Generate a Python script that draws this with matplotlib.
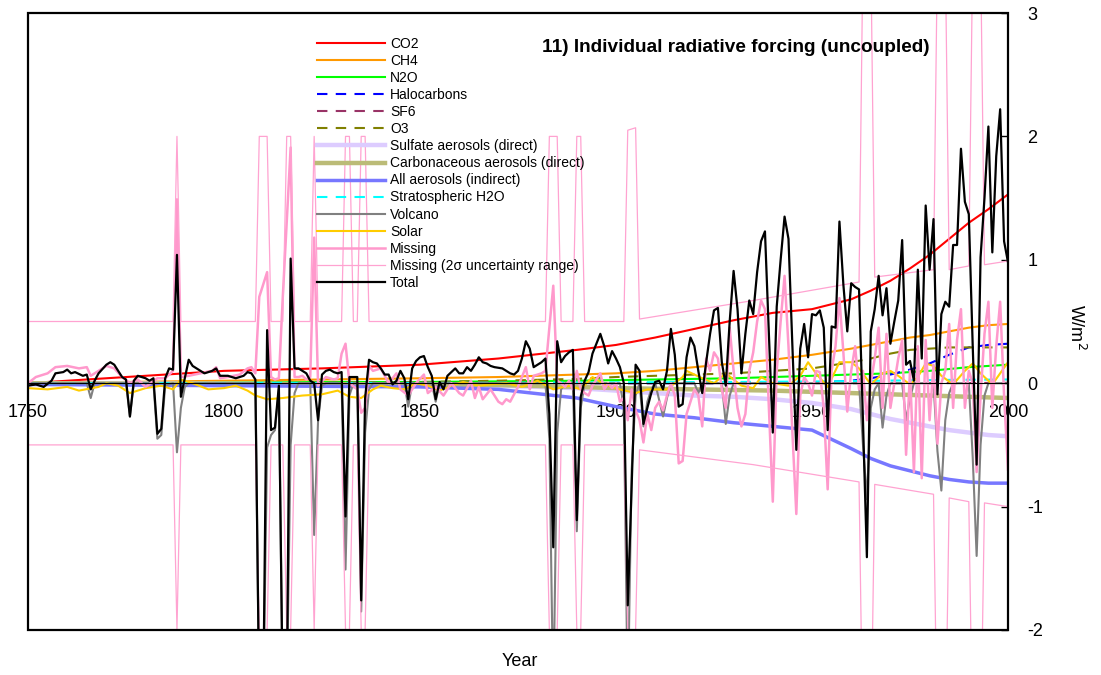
import matplotlib
matplotlib.use("Agg")
import matplotlib.pyplot as plt
from matplotlib.patches import Rectangle

plt.rcParams['font.family'] = ['Liberation Sans', 'DejaVu Sans']
plt.rcParams['axes.unicode_minus'] = False

# smooth forcing series, read at these years (W/m2)
grid_years = [1750, 1775, 1800, 1825, 1850, 1870, 1890, 1900, 1910, 1920, 1930,
              1940, 1950, 1960, 1965, 1970, 1975, 1980, 1985, 1990, 1995, 2000]
co2 = [0.0, 0.05, 0.10, 0.12, 0.15, 0.20, 0.27, 0.31, 0.37, 0.44, 0.51,
       0.57, 0.60, 0.68, 0.75, 0.83, 0.93, 1.04, 1.17, 1.30, 1.41, 1.53]
ch4 = [0.0, 0.01, 0.02, 0.03, 0.04, 0.05, 0.07, 0.08, 0.10, 0.13, 0.16,
       0.19, 0.23, 0.28, 0.31, 0.34, 0.37, 0.39, 0.42, 0.45, 0.47, 0.48]
n2o = [0.0, 0.0, 0.005, 0.01, 0.01, 0.015, 0.02, 0.025, 0.03, 0.035, 0.04,
       0.05, 0.06, 0.07, 0.075, 0.08, 0.09, 0.10, 0.115, 0.13, 0.14, 0.15]
halocarbons = [0, 0, 0, 0, 0, 0, 0, 0, 0, 0, 0,
               0.0, 0.005, 0.02, 0.04, 0.07, 0.11, 0.16, 0.23, 0.29, 0.31, 0.32]
sf6 = [0, 0, 0, 0, 0, 0, 0, 0, 0, 0, 0,
       0, 0, 0, 0, 0, 0, 0.0005, 0.001, 0.001, 0.002, 0.003]
o3 = [0.0, 0.0, 0.0, 0.005, 0.01, 0.02, 0.035, 0.05, 0.06, 0.07, 0.08,
      0.10, 0.12, 0.17, 0.20, 0.24, 0.27, 0.28, 0.29, 0.29, 0.29, 0.29]
sulfate = [0.0, 0.0, -0.005, -0.008, -0.01, -0.02, -0.04, -0.06, -0.08, -0.10, -0.11,
           -0.13, -0.16, -0.21, -0.25, -0.29, -0.32, -0.35, -0.38, -0.40, -0.42, -0.43]
carbonaceous = [0.0, -0.003, -0.006, -0.008, -0.01, -0.015, -0.03, -0.04, -0.045, -0.05, -0.055,
                -0.06, -0.07, -0.08, -0.085, -0.09, -0.095, -0.10, -0.105, -0.11, -0.115, -0.12]
indirect = [-0.01, -0.015, -0.02, -0.025, -0.03, -0.05, -0.12, -0.19, -0.25, -0.28, -0.32,
            -0.35, -0.38, -0.53, -0.61, -0.67, -0.71, -0.75, -0.78, -0.80, -0.81, -0.81]
strat_h2o = [0.0, 0.0, 0.001, 0.002, 0.003, 0.004, 0.006, 0.007, 0.008, 0.009, 0.01,
             0.012, 0.014, 0.017, 0.019, 0.021, 0.023, 0.025, 0.027, 0.028, 0.029, 0.03]

# volcanic forcing (year, value), values below -2 run off the plot
volcano = [(1750, 0), (1765, 0), (1766, -0.12), (1767, 0), (1775, 0), (1776, -0.27), (1777, 0),
           (1782, 0), (1783, -0.45), (1784, -0.42), (1785, -0.02), (1787, 0), (1788, -0.56),
           (1789, -0.2), (1790, -0.03), (1791, 0), (1808, 0), (1809, -2.6), (1810, -2.6),
           (1811, -0.52), (1812, -0.42), (1813, -0.38), (1814, -0.05), (1815, -2.6), (1816, -2.6),
           (1817, -0.5), (1818, -0.08), (1819, 0), (1822, 0), (1823, -1.23), (1824, -0.3),
           (1825, -0.02), (1826, 0), (1830, 0), (1831, -1.51), (1832, -0.1), (1833, 0), (1834, 0),
           (1835, -1.85), (1836, -0.4), (1837, -0.05), (1838, 0), (1846, 0), (1847, -0.19),
           (1848, 0), (1853, 0), (1854, -0.15), (1855, 0), (1882, 0), (1883, -0.45), (1884, -2.6),
           (1885, -0.4), (1886, -0.05), (1887, 0), (1889, 0), (1890, -1.2), (1891, -0.2), (1892, 0),
           (1901, 0), (1902, -0.2), (1903, -2.6), (1904, -0.7), (1905, -0.1), (1906, 0),
           (1907, -0.35), (1908, -0.15), (1909, -0.05), (1910, 0), (1912, -0.27), (1913, -0.12),
           (1914, 0), (1920, 0), (1921, -0.08), (1922, 0), (1927, 0), (1928, -0.33), (1929, -0.1),
           (1930, 0), (1962, 0), (1963, -0.5), (1964, -0.94), (1965, -0.2), (1966, -0.05),
           (1967, 0), (1968, -0.36), (1969, -0.1), (1970, 0), (1973, 0), (1974, -0.3),
           (1975, -0.12), (1976, 0), (1981, 0), (1982, -0.55), (1983, -0.87), (1984, -0.3),
           (1985, -0.08), (1986, 0), (1990, 0), (1991, -0.6), (1992, -1.40), (1993, -0.5),
           (1994, -0.1), (1995, 0), (2000, 0)]

solar = [(1750, -0.04), (1755, -0.05), (1760, -0.03), (1763, -0.06), (1768, -0.03), (1770, 0.0),
         (1773, -0.02), (1776, -0.08), (1780, -0.04), (1784, -0.02), (1787, -0.05), (1789, 0.03),
         (1792, 0.0), (1796, -0.05), (1800, -0.04), (1803, -0.02), (1806, -0.06), (1808, -0.10),
         (1811, -0.13), (1815, -0.12), (1820, -0.10), (1825, -0.09), (1829, -0.06), (1832, -0.11),
         (1835, -0.12), (1838, -0.05), (1840, -0.02), (1843, -0.04), (1846, -0.05), (1849, 0.0),
         (1852, -0.02), (1855, -0.06), (1858, -0.02), (1861, 0.01), (1865, -0.02), (1868, -0.01),
         (1872, 0.0), (1876, -0.03), (1880, 0.02), (1884, -0.05), (1888, -0.02), (1891, -0.05),
         (1894, 0.05), (1897, -0.01), (1901, -0.05), (1905, -0.08), (1908, -0.05), (1913, -0.05),
         (1917, 0.05), (1918, 0.10), (1922, 0.04), (1925, 0.0), (1928, 0.08), (1932, -0.02),
         (1935, -0.04), (1937, 0.05), (1940, 0.0), (1944, -0.02), (1947, 0.06), (1949, 0.17),
         (1951, 0.08), (1954, -0.03), (1957, 0.17), (1960, 0.17), (1962, 0.12), (1965, -0.01),
         (1968, 0.08), (1970, 0.10), (1972, 0.06), (1975, -0.01), (1977, 0.05), (1979, 0.16),
         (1981, 0.14), (1983, 0.06), (1986, -0.01), (1989, 0.10), (1991, 0.16), (1993, 0.08),
         (1996, -0.01), (1998, 0.08), (2000, 0.17)]

missing = [(1750, 0.0), (1752, 0.05), (1755, 0.08), (1757, 0.13), (1760, 0.14), (1763, 0.12),
           (1765, 0.13), (1766, 0.06), (1768, 0.10), (1770, 0.14), (1772, 0.12), (1774, 0.05),
           (1776, 0.0), (1778, 0.03), (1780, -0.03), (1783, 0.04), (1785, 0.04), (1787, 0.10),
           (1788, 1.49), (1789, 0.05), (1791, 0.06), (1794, 0.08), (1797, 0.10), (1798, 0.13),
           (1799, 0.04), (1801, 0.05), (1804, 0.07), (1806, 0.12), (1807, 0.13), (1808, 0.08),
           (1809, 0.70), (1810, 0.80), (1811, 0.90), (1812, 0.05), (1813, 0.03), (1814, 0.04),
           (1815, 0.70), (1816, 1.30), (1817, 1.91), (1818, 0.05), (1819, 0.05), (1820, 0.06),
           (1821, 0.03), (1822, 0.05), (1823, 1.18), (1824, -0.02), (1826, 0.05), (1828, 0.03),
           (1829, 0.04), (1830, 0.24), (1831, 0.32), (1832, 0.0), (1834, -0.05), (1835, -0.24),
           (1836, -0.20), (1837, 0.14), (1838, 0.10), (1840, 0.12), (1842, 0.0), (1844, 0.08),
           (1845, -0.05), (1847, -0.10), (1849, 0.0), (1851, 0.07), (1852, -0.08), (1854, -0.03),
           (1856, -0.10), (1858, 0.0), (1860, -0.08), (1861, -0.10), (1863, 0.02), (1864, -0.12),
           (1865, -0.03), (1866, -0.13), (1868, -0.05), (1870, -0.15), (1871, -0.17),
           (1872, -0.13), (1873, -0.15), (1875, -0.03), (1877, 0.13), (1878, -0.05), (1879, 0.06),
           (1881, 0.08), (1882, 0.10), (1883, 0.45), (1884, 0.79), (1885, 0.02), (1886, 0.0),
           (1887, -0.03), (1888, 0.02), (1889, -0.05), (1890, 0.10), (1891, -0.05), (1892, -0.08),
           (1893, -0.10), (1894, -0.02), (1895, 0.03), (1896, 0.08), (1897, -0.05), (1898, 0.0),
           (1899, -0.04), (1900, 0.0), (1901, -0.15), (1902, -0.12), (1903, -0.30), (1904, -0.05),
           (1905, -0.22), (1906, -0.30), (1907, -0.48), (1908, -0.25), (1909, -0.38), (1910, -0.20),
           (1911, -0.15), (1912, -0.22), (1913, -0.10), (1914, 0.0), (1915, -0.10), (1916, -0.65),
           (1917, -0.63), (1918, -0.25), (1919, -0.15), (1920, -0.05), (1921, -0.10), (1922, -0.35),
           (1923, 0.20), (1924, 0.10), (1925, 0.25), (1926, 0.20), (1927, -0.05), (1928, -0.20),
           (1929, 0.45), (1930, 0.10), (1931, -0.20), (1932, -0.35), (1933, -0.25), (1934, 0.10),
           (1935, 0.25), (1936, 0.50), (1937, 0.67), (1938, 0.60), (1939, -0.20), (1940, -0.96),
           (1941, 0.10), (1942, 0.50), (1943, 0.87), (1944, 0.30), (1945, -0.40), (1946, -1.06),
           (1947, -0.10), (1948, 0.05), (1949, 0.0), (1950, -0.10), (1951, 0.10), (1952, 0.09),
           (1953, -0.20), (1954, -0.86), (1955, 0.10), (1956, 0.30), (1957, 0.69), (1958, 0.25),
           (1959, -0.23), (1960, 0.10), (1961, 0.30), (1962, -0.05), (1963, 0.10), (1964, -0.30),
           (1965, 0.0), (1966, 0.20), (1967, 0.45), (1968, -0.20), (1969, 0.40), (1970, -0.20),
           (1971, 0.0), (1972, 0.20), (1973, 0.35), (1974, -0.58), (1975, 0.10), (1976, -0.72),
           (1977, 0.30), (1978, -0.77), (1979, 0.35), (1980, -0.30), (1981, 0.15), (1982, -0.49),
           (1983, 0.0), (1984, 0.10), (1985, 0.48), (1986, -0.20), (1987, 0.35), (1988, 0.60),
           (1989, -0.20), (1990, 0.10), (1991, 0.0), (1992, -0.72), (1993, -0.10), (1994, 0.40),
           (1995, 0.66), (1996, -0.20), (1997, 0.30), (1998, 0.66), (1999, -0.10), (2000, -0.70)]

# 2 sigma range of the missing forcing (upper and lower edges)
missing_hi = [(1750, 0.5), (1787, 0.5), (1788, 2.0), (1789, 0.5), (1808, 0.5), (1809, 2.0),
              (1811, 2.0), (1812, 0.5), (1815, 0.5), (1816, 2.0), (1817, 2.0), (1818, 0.5),
              (1822, 0.5), (1823, 2.0), (1824, 0.5), (1830, 0.5), (1831, 2.0), (1832, 2.0),
              (1833, 0.5), (1834, 0.5), (1835, 2.0), (1836, 2.0), (1837, 0.5), (1882, 0.5),
              (1883, 2.0), (1885, 2.0), (1886, 0.5), (1889, 0.5), (1890, 2.0), (1891, 2.0),
              (1892, 0.5), (1902, 0.5), (1903, 2.05), (1905, 2.07), (1906, 0.52), (1935, 0.67),
              (1962, 0.82), (1963, 3.5), (1965, 3.5), (1966, 0.86), (1981, 0.92), (1982, 3.5),
              (1984, 3.5), (1985, 0.92), (1990, 0.95), (1991, 3.5), (1993, 3.5), (1994, 0.96),
              (2000, 0.99)]
missing_lo = [(1750, -0.5), (1787, -0.5), (1788, -2.0), (1789, -0.5), (1808, -0.5), (1809, -2.0),
              (1811, -2.0), (1812, -0.5), (1815, -0.5), (1816, -2.0), (1817, -2.0), (1818, -0.5),
              (1822, -0.5), (1823, -2.0), (1824, -0.5), (1830, -0.5), (1831, -2.0), (1832, -2.0),
              (1833, -0.5), (1834, -0.5), (1835, -2.0), (1836, -2.0), (1837, -0.5), (1882, -0.5),
              (1883, -2.0), (1885, -2.0), (1886, -0.5), (1889, -0.5), (1890, -2.0), (1891, -2.0),
              (1892, -0.5), (1902, -0.5), (1903, -2.0), (1905, -2.0), (1906, -0.54), (1935, -0.66),
              (1962, -0.80), (1963, -3.0), (1965, -3.0), (1966, -0.82), (1981, -0.90), (1982, -3.0),
              (1984, -3.0), (1985, -0.93), (1990, -0.96), (1991, -3.0), (1993, -3.0), (1994, -0.97),
              (2000, -1.0)]

total = [(1750, -0.02), (1752, -0.01), (1754, -0.03), (1756, 0.02), (1757, 0.08), (1759, 0.09),
         (1760, 0.11), (1761, 0.08), (1762, 0.09), (1764, 0.06), (1765, 0.07), (1766, -0.05),
         (1767, 0.02), (1768, 0.08), (1770, 0.15), (1771, 0.17), (1772, 0.15), (1774, 0.05),
         (1775, 0.03), (1776, -0.27), (1777, 0.02), (1778, 0.06), (1780, 0.04), (1781, 0.02),
         (1782, 0.04), (1783, -0.41), (1784, -0.37), (1785, 0.04), (1786, 0.12), (1787, 0.11),
         (1788, 1.04), (1789, -0.11), (1791, 0.19), (1792, 0.14), (1794, 0.10), (1795, 0.08),
         (1797, 0.10), (1798, 0.12), (1799, 0.06), (1801, 0.06), (1803, 0.04), (1805, 0.06),
         (1806, 0.09), (1807, 0.08), (1808, 0.03), (1809, -2.6), (1810, -2.6), (1811, 0.43),
         (1812, -0.38), (1813, -0.36), (1814, -0.02), (1815, -2.6), (1816, -2.6), (1817, 1.01),
         (1818, 0.12), (1819, 0.12), (1820, 0.10), (1821, 0.08), (1822, 0.02), (1823, 0.0),
         (1824, -0.30), (1825, 0.07), (1826, 0.10), (1827, 0.11), (1828, 0.09), (1829, 0.08),
         (1830, 0.09), (1831, -1.08), (1832, 0.05), (1834, 0.05), (1835, -1.76), (1836, -0.12),
         (1837, 0.19), (1838, 0.17), (1839, 0.16), (1840, 0.12), (1841, 0.07), (1842, 0.07),
         (1843, -0.01), (1844, 0.02), (1845, 0.10), (1846, 0.04), (1847, -0.13), (1848, 0.12),
         (1849, 0.18), (1850, 0.21), (1851, 0.22), (1852, 0.13), (1853, 0.06), (1854, -0.13),
         (1855, 0.01), (1856, -0.05), (1857, 0.06), (1858, 0.09), (1859, 0.12), (1860, 0.08),
         (1861, 0.08), (1862, 0.13), (1863, 0.10), (1864, 0.15), (1865, 0.21), (1866, 0.17),
         (1867, 0.16), (1868, 0.14), (1869, 0.13), (1871, 0.12), (1873, 0.08), (1874, 0.07),
         (1875, 0.10), (1876, 0.20), (1877, 0.34), (1878, 0.28), (1879, 0.13), (1880, 0.15),
         (1881, 0.17), (1882, 0.20), (1883, -0.25), (1884, -1.33), (1885, 0.34), (1886, 0.17),
         (1887, 0.22), (1888, 0.25), (1889, 0.27), (1890, -1.11), (1891, -0.11), (1892, 0.02),
         (1893, 0.09), (1894, 0.24), (1895, 0.32), (1896, 0.40), (1897, 0.30), (1898, 0.16),
         (1899, 0.26), (1900, 0.20), (1901, 0.13), (1902, 0.0), (1903, -1.80), (1904, -0.83),
         (1905, 0.15), (1906, 0.10), (1907, -0.33), (1908, -0.20), (1909, -0.08), (1910, 0.01),
         (1911, 0.02), (1912, -0.05), (1913, 0.10), (1914, 0.44), (1915, 0.23), (1916, -0.19),
         (1917, -0.17), (1918, 0.21), (1919, 0.37), (1920, 0.30), (1921, 0.10), (1922, -0.08),
         (1923, 0.17), (1924, 0.40), (1925, 0.59), (1926, 0.61), (1927, 0.17), (1928, -0.02),
         (1929, 0.50), (1930, 0.91), (1931, 0.60), (1932, 0.08), (1933, 0.40), (1934, 0.67),
         (1935, 0.56), (1936, 0.90), (1937, 1.15), (1938, 1.23), (1939, 0.40), (1940, -0.40),
         (1941, 0.62), (1942, 1.00), (1943, 1.35), (1944, 1.17), (1945, 0.30), (1946, -0.54),
         (1947, 0.28), (1948, 0.48), (1949, 0.21), (1950, 0.56), (1951, 0.55), (1952, 0.59),
         (1953, 0.45), (1954, -0.38), (1955, 0.46), (1956, 0.45), (1957, 1.31), (1958, 0.80),
         (1959, 0.42), (1960, 0.81), (1961, 0.78), (1962, 0.76), (1963, -0.30), (1964, -1.41),
         (1965, 0.42), (1966, 0.60), (1967, 0.87), (1968, 0.55), (1969, 0.77), (1970, 0.32),
         (1971, 0.50), (1972, 0.67), (1973, 1.16), (1974, 0.15), (1975, 0.18), (1976, 0.02),
         (1977, 0.92), (1978, 0.20), (1979, 1.44), (1980, 0.92), (1981, 1.33), (1982, -0.09),
         (1983, 0.56), (1984, 0.66), (1985, 0.62), (1986, 1.12), (1987, 1.12), (1988, 1.90),
         (1989, 1.47), (1990, 1.37), (1991, 0.30), (1992, -0.66), (1993, 1.02), (1994, 1.50),
         (1995, 2.08), (1996, 1.06), (1997, 1.84), (1998, 2.22), (1999, 1.15), (2000, 0.98)]


def xy(pts):
    return [p[0] for p in pts], [p[1] for p in pts]


fig = plt.figure(figsize=(11.01, 6.75), dpi=100)
ax = fig.add_axes([28 / 1101, 45 / 675, 980 / 1101, 617 / 675])

ax.plot(grid_years, co2, color='#ff0000', lw=1.5, label='CO2')
ax.plot(grid_years, ch4, color='#ff9900', lw=1.5, label='CH4')
ax.plot(grid_years, n2o, color='#00ff00', lw=1.5, label='N2O')
ax.plot(grid_years, halocarbons, color='#0000ff', lw=1.5, ls=(0, (5, 4)), label='Halocarbons')
ax.plot(grid_years, sf6, color='#993366', lw=1.5, ls=(0, (5, 4)), label='SF6')
ax.plot(grid_years, o3, color='#808000', lw=1.5, ls=(0, (5, 4)), label='O3')
ax.plot(grid_years, sulfate, color='#ddccff', lw=3.2, label='Sulfate aerosols (direct)')
ax.plot(grid_years, carbonaceous, color='#bbbb77', lw=3.2, label='Carbonaceous aerosols (direct)')
ax.plot(grid_years, indirect, color='#7777ff', lw=2.5, label='All aerosols (indirect)')
ax.plot(grid_years, strat_h2o, color='#00ffff', lw=1.5, ls=(0, (5, 4)), label='Stratospheric H2O')
ax.plot(*xy(volcano), color='#808080', lw=1.5, label='Volcano')
ax.plot(*xy(solar), color='#ffcc00', lw=1.5, label='Solar')
ax.plot(*xy(missing), color='#ff99cc', lw=1.8, label='Missing')
ax.plot(*xy(missing_hi), color='#ffa3d1', lw=0.9, label='Missing (2\u03c3 uncertainty range)')
ax.plot(*xy(missing_lo), color='#ffa3d1', lw=0.9)
ax.plot(*xy(total), color='black', lw=1.6, label='Total')

ax.set_xlim(1750, 2000)
ax.set_ylim(-2, 3)

# x axis crosses at zero, frame drawn separately
for s in ['top', 'left', 'right']:
    ax.spines[s].set_visible(False)
ax.spines['bottom'].set_position(('data', 0))
ax.spines['bottom'].set_linewidth(0.8)
ax.add_patch(Rectangle((0, 0), 1, 1, transform=ax.transAxes, fill=False,
                       lw=1.6, ec='black', zorder=5, clip_on=False))

ax.set_xticks(range(1750, 2001, 50))
ax.tick_params(axis='x', length=0, pad=15, labelsize=13)
ax.yaxis.set_ticks_position('right')
ax.set_yticks(range(-2, 4))
ax.tick_params(axis='y', direction='in', length=5, width=1, pad=14, labelsize=13)

ax.legend(loc='upper left', bbox_to_anchor=(317 / 1101, 1 - 37 / 675),
          bbox_transform=fig.transFigure, frameon=False, fontsize=10,
          handlelength=4.9, handletextpad=0.35, labelspacing=0.22,
          borderpad=0, borderaxespad=0)

fig.text(930 / 1101, 1 - 47 / 675, '11) Individual radiative forcing (uncoupled)',
         ha='right', va='center', fontsize=13.7, fontweight='bold')
fig.text(1076 / 1101, 1 - 327 / 675, 'W/m$^2$', rotation=270, ha='center', va='center',
         fontsize=13)
fig.text(520 / 1101, 1 - 662 / 675, 'Year', ha='center', va='center', fontsize=13)

fig.savefig('out.png', dpi=100)
